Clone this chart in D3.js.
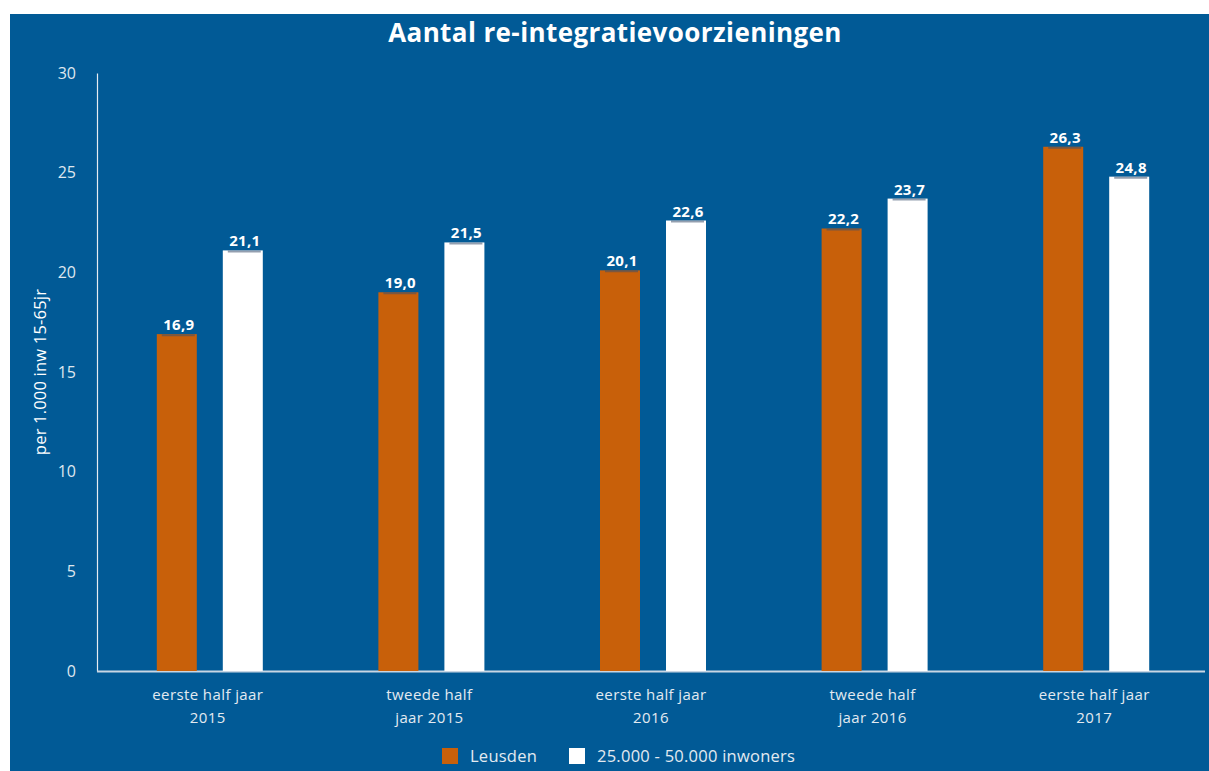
<!DOCTYPE html>
<html>
<head>
<meta charset="utf-8">
<script src="https://cdn.jsdelivr.net/npm/d3@7"></script>
<style>
  body { margin: 0; background: #fff; }
  svg { display: block; font-family: "Open Sans", sans-serif; }
</style>
</head>
<body>
<svg id="chart" width="1209" height="771"></svg>
<script>
// data
const categories = [
  ["eerste half jaar", "2015"],
  ["tweede half", "jaar 2015"],
  ["eerste half jaar", "2016"],
  ["tweede half", "jaar 2016"],
  ["eerste half jaar", "2017"]
]
const seriesNames = ["Leusden", "25.000 - 50.000 inwoners"]
const leusden = [16.9, 19.0, 20.1, 22.2, 26.3]
const gemiddeld = [21.1, 21.5, 22.6, 23.7, 24.8]
const yTicks = [0, 5, 10, 15, 20, 25, 30]
const colours = ["#c8600a", "#ffffff"]

const width = 1209, height = 771
const bg = "#015a96"
const margin = {top: 73, right: 4, bottom: 100, left: 97}

const svg = d3.select("#chart")

svg.append("rect")
  .attr("x", 10).attr("y", 14)
  .attr("width", width - 10).attr("height", height - 14)
  .attr("fill", bg)

svg.append("text")
  .attr("x", 615).attr("y", 42)
  .attr("text-anchor", "middle")
  .attr("fill", "#fff")
  .attr("font-size", 26)
  .attr("font-weight", "bold")
  .attr("letter-spacing", 0.4)
  .text("Aantal re-integratievoorzieningen")

const x0 = d3.scaleBand()
  .domain(d3.range(categories.length))
  .range([margin.left, width - margin.right])

const x1 = d3.scaleBand()
  .domain([0, 1])
  .range([0, 106])
  .paddingInner(26 / 66)

const y = d3.scaleLinear()
  .domain([0, 30])
  .range([height - margin.bottom, margin.top])

// y axis
const yAxis = svg.append("g")
  .attr("transform", `translate(${margin.left},0)`)
  .call(d3.axisLeft(y).tickValues(yTicks).tickSize(0).tickPadding(21))
yAxis.select(".domain").attr("stroke", "#e6ecf2").attr("stroke-width", 1.2)
yAxis.selectAll("text")
  .attr("fill", "#dfe7ef")
  .attr("font-size", 16)
  .attr("font-family", "Open Sans, sans-serif")

// x axis line
svg.append("line")
  .attr("x1", margin.left).attr("x2", width - margin.right)
  .attr("y1", y(0) + 0.5).attr("y2", y(0) + 0.5)
  .attr("stroke", "#c9d6e3").attr("stroke-width", 2)

// y label
svg.append("text")
  .attr("transform", `translate(46,${(y(0) + y(30)) / 2}) rotate(-90)`)
  .attr("text-anchor", "middle")
  .attr("fill", "#fff")
  .attr("font-size", 16.5)
  .attr("letter-spacing", 0.2)
  .text("per 1.000 inw 15-65jr")

// bars
const series = [leusden, gemiddeld]
const groups = svg.append("g").selectAll("g")
  .data(categories)
  .join("g")
  .attr("transform", (d, i) => `translate(${x0(i) + x0.bandwidth() / 2 - 51},0)`)

groups.each(function(cat, i) {
  const g = d3.select(this)
  series.forEach((vals, s) => {
    const bx = x1(s), bw = x1.bandwidth(), v = vals[i]
    g.append("rect")
      .attr("x", bx).attr("y", y(v))
      .attr("width", bw).attr("height", y(0) - y(v))
      .attr("fill", colours[s])
    g.append("line")
      .attr("x1", bx + 5).attr("x2", bx + bw - 2)
      .attr("y1", y(v) + 1).attr("y2", y(v) + 1)
      .attr("stroke", "rgba(60,80,110,0.55)").attr("stroke-width", 2)
    g.append("text")
      .attr("x", bx + bw / 2 + 2).attr("y", y(v) - 4)
      .attr("text-anchor", "middle")
      .attr("fill", "#fff")
      .attr("font-size", 15)
      .attr("font-weight", "bold")
      .attr("letter-spacing", 0.3)
      .text(d3.format(".1f")(v).replace(".", ","))
  })
  const t = g.append("text")
    .attr("x", 51).attr("y", y(0) + 29)
    .attr("text-anchor", "middle")
    .attr("fill", "#e3eaf1")
    .attr("font-size", 15)
    .attr("letter-spacing", 0.4)
  cat.forEach((line, k) => {
    t.append("tspan").attr("x", 51).attr("dy", k ? 23 : 0).text(line)
  })
})

// legend
const legend = svg.append("g").attr("transform", "translate(442,748)")
const legX = [0, 127]
seriesNames.forEach((name, s) => {
  legend.append("rect")
    .attr("x", legX[s]).attr("y", 0)
    .attr("width", 16).attr("height", 16)
    .attr("fill", colours[s])
  legend.append("text")
    .attr("x", legX[s] + 28).attr("y", 14)
    .attr("fill", "#e3eaf1")
    .attr("font-size", 16.5)
    .attr("letter-spacing", 0.25)
    .text(name)
})
</script>
</body>
</html>
